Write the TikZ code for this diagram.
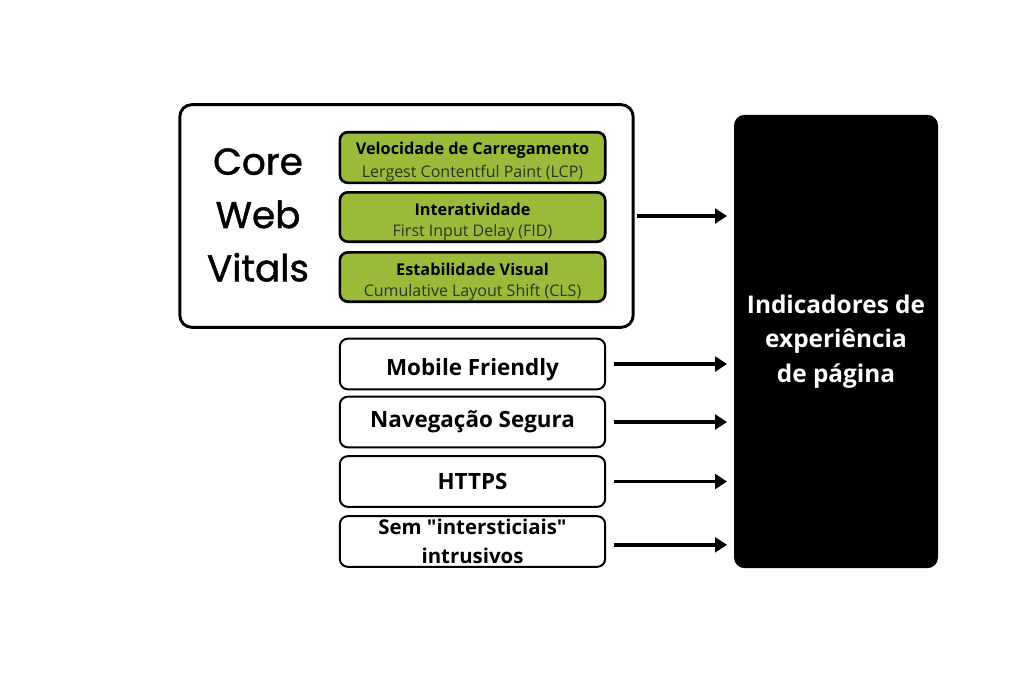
\documentclass[tikz,border=0pt]{standalone}
\usepackage{fontspec}
\setmainfont{Open Sans}
\newfontfamily\titlefont[FakeBold=1.2]{Poppins}
\usepackage{tikz}
\usetikzlibrary{arrows.meta, positioning, shapes}
\usepackage{xcolor}
\definecolor{cwvgreen}{HTML}{9ABB3A}
\definecolor{subtext}{HTML}{2E3320}

\tikzset{
	metricbox/.style={draw, line width=2pt, rounded corners=6pt, fill=cwvgreen,
		minimum width=199pt, minimum height=37pt, align=center, inner sep=1pt},
	signalbox/.style={draw, line width=1.5pt, rounded corners=6pt, fill=white,
		minimum width=199pt, minimum height=38pt, align=center, inner sep=1pt,
		font=\bfseries\fontsize{16.8}{19}\selectfont},
	arr/.style={-{Triangle[length=9pt, width=11pt]}, line width=2.7pt, shorten >=5pt}
}

\begin{document}
\begin{tikzpicture}[x=0.75pt, y=-0.75pt]
	
	% fundo
	\useasboundingbox (0, 0) rectangle (1024, 683);
	
	% Core Web Vitals
	\node[draw, line width=2.2pt, rounded corners=9pt, minimum width=340pt, minimum height=167pt] (cwv) at (406.5, 216) {};
	\node[font=\titlefont\fontsize{28}{40}\selectfont, align=center] (title) at (258, 215) {Core\\Web\\Vitals};
	
	% metricas
	\node[metricbox] (lcp) at (472.5, 157.5) {\rule{0pt}{16pt}{\bfseries\fontsize{12.2}{13}\selectfont Velocidade de Carregamento}\\[4pt]{\color{subtext}\fontsize{12}{13}\selectfont Lergest Contentful Paint (LCP)}};
	\node[metricbox] (fid) at (472.5, 217) {\rule{0pt}{16pt}{\bfseries\fontsize{12.2}{13}\selectfont Interatividade}\\[4pt]{\color{subtext}\fontsize{12}{13}\selectfont First Input Delay (FID)}};
	\node[metricbox] (cls) at (472.5, 277) {\rule{0pt}{16pt}{\bfseries\fontsize{12.2}{13}\selectfont Estabilidade Visual}\\[4pt]{\color{subtext}\fontsize{12}{13}\selectfont Cumulative Layout Shift (CLS)}};
	
	% outros sinais
	\node[signalbox, text height=17pt, text depth=0pt] (mobile) at (472.5, 364) {Mobile Friendly};
	\node[signalbox] (nav) at (472.5, 422) {Navegação Segura};
	\node[signalbox] (https) at (472.5, 481.5) {HTTPS};
	\node[signalbox, font=\bfseries\fontsize{15.3}{22}\selectfont] (sem) at (472.5, 541.5) {Sem \textquotedbl intersticiais\textquotedbl\\intrusivos};
	
	% indicadores
	\node[fill=black, rounded corners=8pt, minimum width=153pt, minimum height=340pt, text=white, align=center,
		font=\bfseries\fontsize{18.3}{26}\selectfont] (ind) at (836, 341.5) {Indicadores de\\experiência\\de página};
	
	% setas
	\draw[arr, shorten <=2pt] (cwv.east) -- (cwv.east -| ind.west);
	\draw[arr, shorten <=6pt] (mobile.east) -- (mobile.east -| ind.west);
	\draw[arr, shorten <=6pt] (nav.east) -- (nav.east -| ind.west);
	\draw[arr, shorten <=6pt] (https.east) -- (https.east -| ind.west);
	\draw[arr, shorten <=6pt] ([yshift=-2.5pt]sem.east) -- ([yshift=-2.5pt]sem.east -| ind.west);
	
\end{tikzpicture}
\end{document}
